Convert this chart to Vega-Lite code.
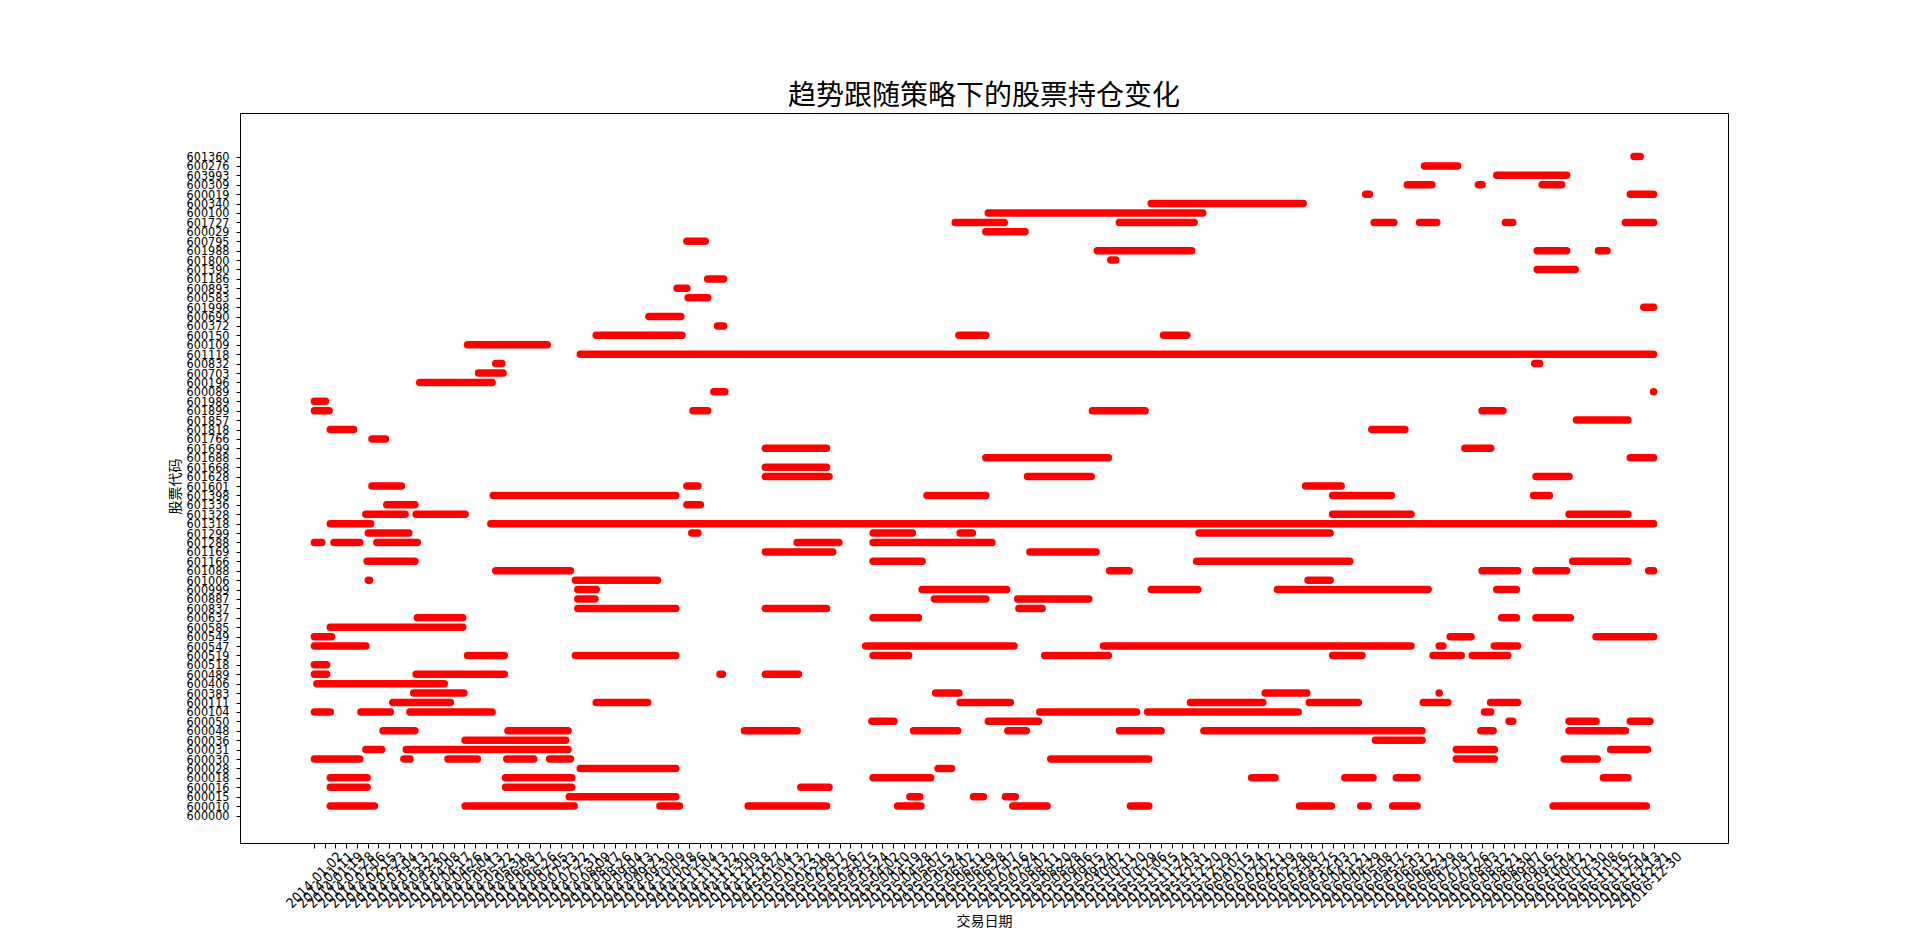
{
  "$schema": "https://vega.github.io/schema/vega-lite/v6.json",
  "width": 1488,
  "height": 730,
  "autosize": {"type": "none"},
  "padding": {"left": 240, "top": 113, "right": 192, "bottom": 104},
  "background": "white",
  "title": {"text": "趋势跟随策略下的股票持仓变化", "font": "Noto Sans CJK SC", "fontSize": 28, "fontWeight": "normal", "color": "black", "offset": 2},
  "data": {
    "format": {"parse": {"start": "utc:'%Y-%j'", "end": "utc:'%Y-%j'"}},
    "values": [
      {"code": "601360", "start": "2016-349", "end": "2016-354"},
      {"code": "600276", "start": "2016-178", "end": "2016-205"},
      {"code": "603993", "start": "2016-237", "end": "2016-294"},
      {"code": "600309", "start": "2016-164", "end": "2016-184"},
      {"code": "600309", "start": "2016-222", "end": "2016-225"},
      {"code": "600309", "start": "2016-274", "end": "2016-290"},
      {"code": "600019", "start": "2016-130", "end": "2016-133"},
      {"code": "600019", "start": "2016-346", "end": "2016-365"},
      {"code": "600340", "start": "2015-320", "end": "2016-079"},
      {"code": "600100", "start": "2015-187", "end": "2015-362"},
      {"code": "601727", "start": "2015-160", "end": "2015-200"},
      {"code": "601727", "start": "2015-294", "end": "2015-355"},
      {"code": "601727", "start": "2016-137", "end": "2016-153"},
      {"code": "601727", "start": "2016-174", "end": "2016-188"},
      {"code": "601727", "start": "2016-244", "end": "2016-250"},
      {"code": "601727", "start": "2016-342", "end": "2016-365"},
      {"code": "600029", "start": "2015-185", "end": "2015-217"},
      {"code": "600795", "start": "2014-306", "end": "2014-321"},
      {"code": "601988", "start": "2015-276", "end": "2015-353"},
      {"code": "601988", "start": "2016-270", "end": "2016-294"},
      {"code": "601988", "start": "2016-320", "end": "2016-327"},
      {"code": "601800", "start": "2015-287", "end": "2015-291"},
      {"code": "601390", "start": "2016-270", "end": "2016-301"},
      {"code": "601186", "start": "2014-323", "end": "2014-336"},
      {"code": "600893", "start": "2014-298", "end": "2014-306"},
      {"code": "600583", "start": "2014-307", "end": "2014-323"},
      {"code": "601998", "start": "2016-357", "end": "2016-365"},
      {"code": "600690", "start": "2014-275", "end": "2014-301"},
      {"code": "600372", "start": "2014-331", "end": "2014-336"},
      {"code": "600150", "start": "2014-232", "end": "2014-302"},
      {"code": "600150", "start": "2015-163", "end": "2015-185"},
      {"code": "600150", "start": "2015-330", "end": "2015-349"},
      {"code": "600109", "start": "2014-127", "end": "2014-192"},
      {"code": "601118", "start": "2014-219", "end": "2016-365"},
      {"code": "600832", "start": "2014-150", "end": "2014-155"},
      {"code": "600832", "start": "2016-268", "end": "2016-272"},
      {"code": "600703", "start": "2014-136", "end": "2014-156"},
      {"code": "600196", "start": "2014-088", "end": "2014-147"},
      {"code": "600089", "start": "2014-328", "end": "2014-337"},
      {"code": "600089", "start": "2016-365", "end": "2016-365"},
      {"code": "601989", "start": "2014-002", "end": "2014-011"},
      {"code": "601899", "start": "2014-002", "end": "2014-014"},
      {"code": "601899", "start": "2014-311", "end": "2014-323"},
      {"code": "601899", "start": "2015-272", "end": "2015-315"},
      {"code": "601899", "start": "2016-225", "end": "2016-242"},
      {"code": "601857", "start": "2016-302", "end": "2016-344"},
      {"code": "601818", "start": "2014-015", "end": "2014-034"},
      {"code": "601818", "start": "2016-135", "end": "2016-162"},
      {"code": "601766", "start": "2014-049", "end": "2014-060"},
      {"code": "601699", "start": "2015-005", "end": "2015-055"},
      {"code": "601699", "start": "2016-211", "end": "2016-232"},
      {"code": "601688", "start": "2015-185", "end": "2015-285"},
      {"code": "601688", "start": "2016-346", "end": "2016-365"},
      {"code": "601668", "start": "2015-005", "end": "2015-055"},
      {"code": "601628", "start": "2015-005", "end": "2015-057"},
      {"code": "601628", "start": "2015-219", "end": "2015-271"},
      {"code": "601628", "start": "2016-269", "end": "2016-296"},
      {"code": "601601", "start": "2014-049", "end": "2014-073"},
      {"code": "601601", "start": "2014-306", "end": "2014-315"},
      {"code": "601601", "start": "2016-081", "end": "2016-110"},
      {"code": "601398", "start": "2014-148", "end": "2014-297"},
      {"code": "601398", "start": "2015-137", "end": "2015-185"},
      {"code": "601398", "start": "2016-103", "end": "2016-151"},
      {"code": "601398", "start": "2016-267", "end": "2016-280"},
      {"code": "601336", "start": "2014-061", "end": "2014-084"},
      {"code": "601336", "start": "2014-306", "end": "2014-317"},
      {"code": "601328", "start": "2014-044", "end": "2014-076"},
      {"code": "601328", "start": "2014-085", "end": "2014-125"},
      {"code": "601328", "start": "2016-103", "end": "2016-167"},
      {"code": "601328", "start": "2016-296", "end": "2016-344"},
      {"code": "601318", "start": "2014-015", "end": "2014-048"},
      {"code": "601318", "start": "2014-146", "end": "2016-365"},
      {"code": "601299", "start": "2014-046", "end": "2014-079"},
      {"code": "601299", "start": "2014-310", "end": "2014-315"},
      {"code": "601299", "start": "2015-093", "end": "2015-125"},
      {"code": "601299", "start": "2015-164", "end": "2015-174"},
      {"code": "601299", "start": "2015-359", "end": "2016-101"},
      {"code": "601288", "start": "2014-002", "end": "2014-008"},
      {"code": "601288", "start": "2014-018", "end": "2014-039"},
      {"code": "601288", "start": "2014-053", "end": "2014-086"},
      {"code": "601288", "start": "2015-031", "end": "2015-065"},
      {"code": "601288", "start": "2015-093", "end": "2015-190"},
      {"code": "601169", "start": "2015-005", "end": "2015-060"},
      {"code": "601169", "start": "2015-221", "end": "2015-275"},
      {"code": "601166", "start": "2014-045", "end": "2014-084"},
      {"code": "601166", "start": "2015-093", "end": "2015-133"},
      {"code": "601166", "start": "2015-357", "end": "2016-117"},
      {"code": "601166", "start": "2016-299", "end": "2016-344"},
      {"code": "601088", "start": "2014-150", "end": "2014-211"},
      {"code": "601088", "start": "2015-286", "end": "2015-302"},
      {"code": "601088", "start": "2016-225", "end": "2016-254"},
      {"code": "601088", "start": "2016-269", "end": "2016-294"},
      {"code": "601088", "start": "2016-361", "end": "2016-365"},
      {"code": "601006", "start": "2014-046", "end": "2014-047"},
      {"code": "601006", "start": "2014-215", "end": "2014-282"},
      {"code": "601006", "start": "2016-083", "end": "2016-101"},
      {"code": "600999", "start": "2014-217", "end": "2014-232"},
      {"code": "600999", "start": "2015-133", "end": "2015-202"},
      {"code": "600999", "start": "2015-320", "end": "2015-358"},
      {"code": "600999", "start": "2016-058", "end": "2016-181"},
      {"code": "600999", "start": "2016-237", "end": "2016-253"},
      {"code": "600887", "start": "2014-217", "end": "2014-231"},
      {"code": "600887", "start": "2015-143", "end": "2015-185"},
      {"code": "600887", "start": "2015-211", "end": "2015-269"},
      {"code": "600837", "start": "2014-217", "end": "2014-297"},
      {"code": "600837", "start": "2015-005", "end": "2015-055"},
      {"code": "600837", "start": "2015-212", "end": "2015-231"},
      {"code": "600637", "start": "2014-086", "end": "2014-123"},
      {"code": "600637", "start": "2015-093", "end": "2015-130"},
      {"code": "600637", "start": "2016-241", "end": "2016-253"},
      {"code": "600637", "start": "2016-269", "end": "2016-297"},
      {"code": "600585", "start": "2014-015", "end": "2014-123"},
      {"code": "600549", "start": "2014-002", "end": "2014-016"},
      {"code": "600549", "start": "2016-199", "end": "2016-216"},
      {"code": "600549", "start": "2016-318", "end": "2016-365"},
      {"code": "600547", "start": "2014-002", "end": "2014-044"},
      {"code": "600547", "start": "2015-087", "end": "2015-208"},
      {"code": "600547", "start": "2015-281", "end": "2016-167"},
      {"code": "600547", "start": "2016-190", "end": "2016-193"},
      {"code": "600547", "start": "2016-235", "end": "2016-254"},
      {"code": "600519", "start": "2014-127", "end": "2014-157"},
      {"code": "600519", "start": "2014-215", "end": "2014-297"},
      {"code": "600519", "start": "2015-093", "end": "2015-122"},
      {"code": "600519", "start": "2015-233", "end": "2015-285"},
      {"code": "600519", "start": "2016-103", "end": "2016-127"},
      {"code": "600519", "start": "2016-185", "end": "2016-208"},
      {"code": "600519", "start": "2016-217", "end": "2016-246"},
      {"code": "600518", "start": "2014-002", "end": "2014-012"},
      {"code": "600489", "start": "2014-002", "end": "2014-012"},
      {"code": "600489", "start": "2014-085", "end": "2014-157"},
      {"code": "600489", "start": "2014-333", "end": "2014-335"},
      {"code": "600489", "start": "2015-005", "end": "2015-032"},
      {"code": "600406", "start": "2014-004", "end": "2014-108"},
      {"code": "600383", "start": "2014-083", "end": "2014-124"},
      {"code": "600383", "start": "2015-144", "end": "2015-163"},
      {"code": "600383", "start": "2016-048", "end": "2016-082"},
      {"code": "600383", "start": "2016-190", "end": "2016-190"},
      {"code": "600111", "start": "2014-066", "end": "2014-113"},
      {"code": "600111", "start": "2014-232", "end": "2014-274"},
      {"code": "600111", "start": "2015-164", "end": "2015-205"},
      {"code": "600111", "start": "2015-352", "end": "2016-046"},
      {"code": "600111", "start": "2016-084", "end": "2016-124"},
      {"code": "600111", "start": "2016-177", "end": "2016-197"},
      {"code": "600111", "start": "2016-232", "end": "2016-254"},
      {"code": "600104", "start": "2014-002", "end": "2014-015"},
      {"code": "600104", "start": "2014-040", "end": "2014-064"},
      {"code": "600104", "start": "2014-080", "end": "2014-147"},
      {"code": "600104", "start": "2015-229", "end": "2015-308"},
      {"code": "600104", "start": "2015-317", "end": "2016-075"},
      {"code": "600104", "start": "2016-227", "end": "2016-232"},
      {"code": "600050", "start": "2015-092", "end": "2015-110"},
      {"code": "600050", "start": "2015-187", "end": "2015-228"},
      {"code": "600050", "start": "2016-247", "end": "2016-250"},
      {"code": "600050", "start": "2016-296", "end": "2016-318"},
      {"code": "600050", "start": "2016-346", "end": "2016-362"},
      {"code": "600048", "start": "2014-058", "end": "2014-084"},
      {"code": "600048", "start": "2014-160", "end": "2014-209"},
      {"code": "600048", "start": "2014-353", "end": "2015-031"},
      {"code": "600048", "start": "2015-126", "end": "2015-162"},
      {"code": "600048", "start": "2015-203", "end": "2015-218"},
      {"code": "600048", "start": "2015-294", "end": "2015-328"},
      {"code": "600048", "start": "2015-363", "end": "2016-176"},
      {"code": "600048", "start": "2016-224", "end": "2016-234"},
      {"code": "600048", "start": "2016-296", "end": "2016-342"},
      {"code": "600036", "start": "2014-125", "end": "2014-207"},
      {"code": "600036", "start": "2016-138", "end": "2016-176"},
      {"code": "600031", "start": "2014-044", "end": "2014-057"},
      {"code": "600031", "start": "2014-077", "end": "2014-209"},
      {"code": "600031", "start": "2016-204", "end": "2016-235"},
      {"code": "600031", "start": "2016-330", "end": "2016-360"},
      {"code": "600030", "start": "2014-002", "end": "2014-039"},
      {"code": "600030", "start": "2014-075", "end": "2014-080"},
      {"code": "600030", "start": "2014-111", "end": "2014-135"},
      {"code": "600030", "start": "2014-159", "end": "2014-181"},
      {"code": "600030", "start": "2014-194", "end": "2014-211"},
      {"code": "600030", "start": "2015-238", "end": "2015-318"},
      {"code": "600030", "start": "2016-204", "end": "2016-235"},
      {"code": "600030", "start": "2016-292", "end": "2016-319"},
      {"code": "600028", "start": "2014-219", "end": "2014-297"},
      {"code": "600028", "start": "2015-146", "end": "2015-157"},
      {"code": "600018", "start": "2014-015", "end": "2014-045"},
      {"code": "600018", "start": "2014-158", "end": "2014-212"},
      {"code": "600018", "start": "2015-093", "end": "2015-140"},
      {"code": "600018", "start": "2016-037", "end": "2016-056"},
      {"code": "600018", "start": "2016-113", "end": "2016-136"},
      {"code": "600018", "start": "2016-155", "end": "2016-172"},
      {"code": "600018", "start": "2016-324", "end": "2016-344"},
      {"code": "600016", "start": "2014-015", "end": "2014-045"},
      {"code": "600016", "start": "2014-158", "end": "2014-212"},
      {"code": "600016", "start": "2015-034", "end": "2015-057"},
      {"code": "600015", "start": "2014-210", "end": "2014-297"},
      {"code": "600015", "start": "2015-123", "end": "2015-131"},
      {"code": "600015", "start": "2015-175", "end": "2015-183"},
      {"code": "600015", "start": "2015-201", "end": "2015-209"},
      {"code": "600010", "start": "2014-015", "end": "2014-051"},
      {"code": "600010", "start": "2014-125", "end": "2014-214"},
      {"code": "600010", "start": "2014-284", "end": "2014-300"},
      {"code": "600010", "start": "2014-356", "end": "2015-055"},
      {"code": "600010", "start": "2015-113", "end": "2015-132"},
      {"code": "600010", "start": "2015-207", "end": "2015-235"},
      {"code": "600010", "start": "2015-303", "end": "2015-318"},
      {"code": "600010", "start": "2016-076", "end": "2016-102"},
      {"code": "600010", "start": "2016-126", "end": "2016-132"},
      {"code": "600010", "start": "2016-152", "end": "2016-172"},
      {"code": "600010", "start": "2016-283", "end": "2016-359"}
    ]
  },
  "mark": {"type": "rule", "color": "#ff0000", "strokeWidth": 7.5, "strokeCap": "round"},
  "encoding": {
    "x": {
      "field": "start",
      "type": "temporal",
      "title": "交易日期",
      "scale": {
        "type": "utc",
        "nice": false,
        "domain": [{"year": 2014, "month": 1, "date": 2, "utc": true}, {"year": 2016, "month": 12, "date": 30, "utc": true}],
        "range": [74.4, 1413.6]
      },
      "axis": {
        "values": ["2014-01-02","2014-01-11","2014-01-19","2014-01-28","2014-02-06","2014-02-15","2014-02-23","2014-03-04","2014-03-13","2014-03-22","2014-03-30","2014-04-08","2014-04-17","2014-04-26","2014-05-04","2014-05-13","2014-05-22","2014-05-31","2014-06-08","2014-06-17","2014-06-26","2014-07-05","2014-07-13","2014-07-22","2014-07-31","2014-08-09","2014-08-17","2014-08-26","2014-09-04","2014-09-13","2014-09-21","2014-09-30","2014-10-09","2014-10-18","2014-10-26","2014-11-04","2014-11-13","2014-11-22","2014-11-30","2014-12-09","2014-12-18","2014-12-27","2015-01-04","2015-01-13","2015-01-22","2015-01-31","2015-02-08","2015-02-17","2015-02-26","2015-03-07","2015-03-15","2015-03-24","2015-04-02","2015-04-10","2015-04-19","2015-04-28","2015-05-07","2015-05-15","2015-05-24","2015-06-02","2015-06-11","2015-06-19","2015-06-28","2015-07-07","2015-07-16","2015-07-24","2015-08-02","2015-08-11","2015-08-20","2015-08-28","2015-09-06","2015-09-15","2015-09-24","2015-10-02","2015-10-11","2015-10-20","2015-10-29","2015-11-06","2015-11-15","2015-11-24","2015-12-03","2015-12-11","2015-12-20","2015-12-29","2016-01-07","2016-01-15","2016-01-24","2016-02-02","2016-02-11","2016-02-19","2016-02-28","2016-03-08","2016-03-17","2016-03-25","2016-04-03","2016-04-12","2016-04-21","2016-04-29","2016-05-08","2016-05-17","2016-05-25","2016-06-03","2016-06-12","2016-06-21","2016-06-29","2016-07-08","2016-07-17","2016-07-26","2016-08-03","2016-08-12","2016-08-21","2016-08-30","2016-09-07","2016-09-16","2016-09-25","2016-10-04","2016-10-12","2016-10-21","2016-10-30","2016-11-08","2016-11-16","2016-11-25","2016-12-04","2016-12-13","2016-12-21","2016-12-30"],
        "labelExpr": "utcFormat(datum.value, '%Y-%m-%d')",
        "labelAngle": -45,
        "labelAlign": "center",
        "labelBaseline": "middle",
        "labelPadding": 32,
        "labelOverlap": false,
        "labelFlush": false,
        "labelBound": false,
        "labelFont": "Liberation Sans Narrow, DejaVu Sans Condensed, DejaVu Sans",
        "labelFontSize": 13.9,
        "labelColor": "black",
        "tickSize": 5,
        "tickColor": "black",
        "domainColor": "black",
        "grid": false,
        "titleFont": "Noto Sans CJK SC",
        "titleFontSize": 14,
        "titleFontWeight": "normal",
        "titleColor": "black",
        "titleY": 78,
        "titleBaseline": "middle"
      }
    },
    "x2": {"field": "end"},
    "y": {
      "field": "code",
      "type": "ordinal",
      "title": "股票代码",
      "scale": {
        "type": "point",
        "padding": 0,
        "domain": ["601360","600276","603993","600309","600019","600340","600100","601727","600029","600795","601988","601800","601390","601186","600893","600583","601998","600690","600372","600150","600109","601118","600832","600703","600196","600089","601989","601899","601857","601818","601766","601699","601688","601668","601628","601601","601398","601336","601328","601318","601299","601288","601169","601166","601088","601006","600999","600887","600837","600637","600585","600549","600547","600519","600518","600489","600406","600383","600111","600104","600050","600048","600036","600031","600030","600028","600018","600016","600015","600010","600000"],
        "range": [43.5, 702.5]
      },
      "axis": {
        "labelOverlap": false,
        "labelFlush": false,
        "labelBound": false,
        "labelFont": "Liberation Sans Narrow, DejaVu Sans Condensed, DejaVu Sans",
        "labelFontSize": 12.5,
        "labelColor": "black",
        "labelPadding": 7,
        "tickSize": 4,
        "tickColor": "black",
        "domainColor": "black",
        "grid": false,
        "titleFont": "Noto Sans CJK SC",
        "titleFontSize": 14,
        "titleFontWeight": "normal",
        "titleColor": "black",
        "titleX": -65,
        "titleBaseline": "middle"
      }
    }
  },
  "config": {"view": {"stroke": "black", "strokeWidth": 1}}
}
